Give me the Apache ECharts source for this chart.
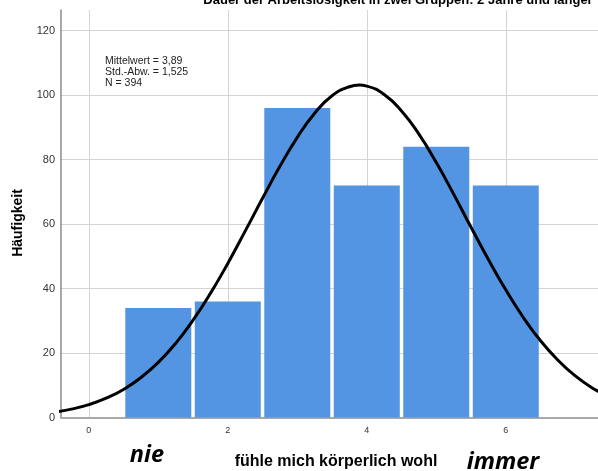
<!DOCTYPE html>
<html>
<head>
<meta charset="utf-8">
<script src="https://cdn.jsdelivr.net/npm/echarts@6/dist/echarts.min.js"></script>
<style>
html,body{margin:0;padding:0;background:#fff;}
#chart{width:598px;height:471px;}
</style>
</head>
<body>
<div id="chart"></div>
<script>
// Histogram bins (centre value) and counts
const binCenters = [1, 2, 3, 4, 5, 6];
const counts = [34, 36, 96, 72, 84, 72];
// Normal curve (x, frequency)
const curveX = [-0.5, -0.25, 0, 0.25, 0.5, 0.75, 1, 1.25, 1.5, 1.75, 2, 2.25, 2.5, 2.75, 3, 3.25, 3.5, 3.75, 3.89, 4, 4.25, 4.5, 4.75, 5, 5.25, 5.5, 5.75, 6, 6.25, 6.5, 6.75, 7, 7.25, 7.5];
const curveY = [1.6, 2.6, 4.0, 6.0, 8.7, 12.4, 17.1, 23.0, 30.2, 38.5, 47.8, 57.8, 68.0, 77.9, 86.9, 94.4, 99.8, 102.6, 103.1, 102.8, 100.2, 95.1, 87.9, 79.1, 69.3, 59.0, 49.0, 39.6, 31.1, 23.8, 17.8, 12.9, 9.1, 6.3];
const xTicks = [0, 2, 4, 6];
const yTicks = [0, 20, 40, 60, 80, 100, 120];
const titleText = 'Dauer der Arbeitslosigkeit in zwei Gruppen: 2 Jahre und länger';
const statsLines = ['Mittelwert = 3,89', 'Std.-Abw. = 1,525', 'N = 394'];
const yName = 'Häufigkeit';
const xName = 'fühle mich körperlich wohl';
const lowLabel = 'nie';
const highLabel = 'immer';

const isTick = (v, list) => list.some(t => Math.abs(v - t) < 1e-6);

const chart = echarts.init(document.getElementById('chart'), null, {renderer: 'canvas'});
const barData = binCenters.map((c, i) => [c, counts[i]]);
const curveData = curveX.map((x, i) => [x, curveY[i]]);

// minor step 0.4 from -0.4: every 5th line (index 1, 6, 11, 16) is 0, 2, 4, 6
const T = 'rgba(0,0,0,0)';
const G = '#d4d4d4';

chart.setOption({
  animation: false,
  backgroundColor: '#fff',
  grid: {left: 61, top: 10, right: 0, bottom: 53.5, containLabel: false},
  xAxis: {
    type: 'value',
    min: -0.4,
    max: 7.327,
    interval: 0.4,
    axisLine: {show: true, onZero: false, lineStyle: {color: '#a8a8a8', width: 2}},
    axisTick: {show: false},
    axisLabel: {
      show: true, margin: 9, fontSize: 9, color: '#333', fontFamily: 'Liberation Sans, Arial',
      showMinLabel: false, showMaxLabel: false, hideOverlap: false,
      formatter: v => (isTick(v, xTicks) ? String(Math.round(v)) : '')
    },
    splitLine: {show: true, showMaxLine: false, lineStyle: {color: [T, G, T, T, T], width: 1}}
  },
  yAxis: {
    type: 'value',
    min: 0,
    max: 126.4,
    interval: 20,
    axisLine: {show: true, onZero: false, lineStyle: {color: '#8c8c8c', width: 1.5}},
    axisTick: {show: false},
    axisLabel: {
      show: true, margin: 6, fontSize: 11, color: '#333', fontFamily: 'Liberation Sans, Arial',
      showMaxLabel: false,
      formatter: v => (isTick(v, yTicks) ? String(v) : '')
    },
    splitLine: {show: true, showMinLine: false, showMaxLine: false, lineStyle: {color: G, width: 1}}
  },
  series: [
    {
      type: 'bar',
      data: barData,
      barWidth: 66,
      itemStyle: {color: '#5394E3'},
      z: 2
    },
    {
      type: 'line',
      data: curveData,
      smooth: true,
      showSymbol: false,
      symbol: 'none',
      lineStyle: {color: '#000', width: 3},
      z: 3
    }
  ],
  graphic: [
    {type: 'text', x: 398, y: 0, style: {text: titleText, font: 'bold 13px "Liberation Sans", Arial', fill: '#000', align: 'center', verticalAlign: 'middle'}},
    {type: 'text', x: 105, y: 56, style: {text: statsLines.join('\n'), font: '10.5px "Liberation Sans", Arial', lineHeight: 11, fill: '#222', align: 'left', verticalAlign: 'top'}},
    {type: 'text', x: 18, y: 223, rotation: Math.PI / 2, style: {text: yName, font: 'bold 14px "Liberation Sans", Arial', fill: '#000', align: 'center', verticalAlign: 'middle'}},
    {type: 'text', x: 336, y: 462, style: {text: xName, font: 'bold 16px "Liberation Sans", Arial', fill: '#000', align: 'center', verticalAlign: 'middle'}},
    {type: 'text', x: 147, y: 455, style: {text: lowLabel, font: 'italic bold 23.5px "Open Sans"', fill: '#000', align: 'center', verticalAlign: 'middle'}},
    {type: 'text', x: 503, y: 462, style: {text: highLabel, font: 'italic bold 23.5px "Open Sans"', fill: '#000', align: 'center', verticalAlign: 'middle'}}
  ]
});
</script>
</body>
</html>
